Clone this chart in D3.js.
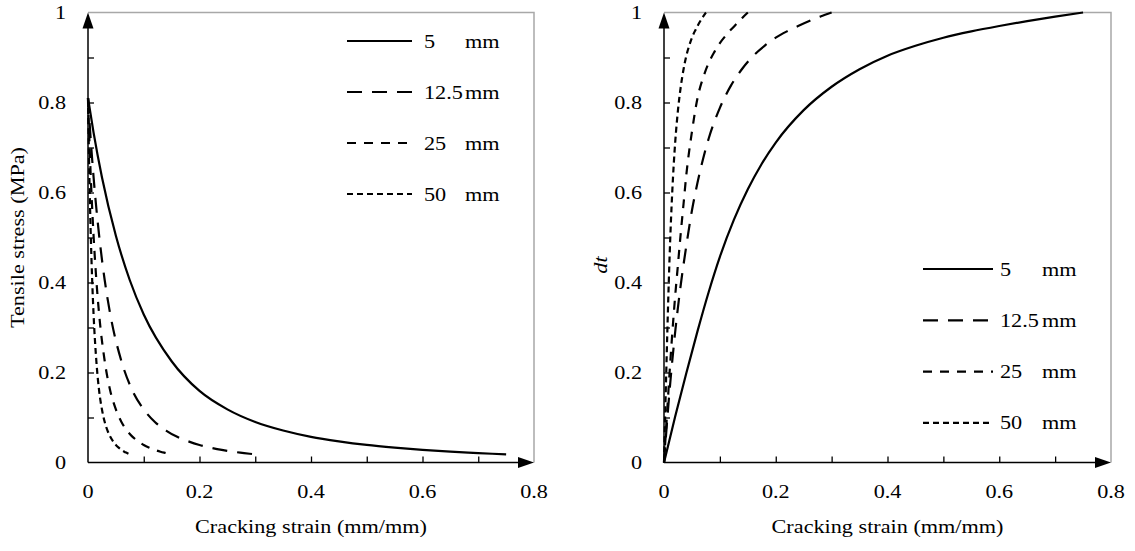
<!DOCTYPE html>
<html>
<head>
<meta charset="utf-8">
<script src="https://cdn.jsdelivr.net/npm/d3@7"></script>
<style>
  html, body { margin: 0; padding: 0; background: #fff; }
  svg { display: block; }
</style>
</head>
<body>
<svg id="chart" width="1135" height="551"></svg>
<script>
// Element sizes (mm) shown in both panels
const elementSizes = ["5", "12.5", "25", "50"];

// Tensile stress (MPa) against cracking strain (mm/mm)
const stress5mm = [[0,0.81],[0.01,0.733],[0.025,0.634],[0.05,0.504],[0.075,0.405],[0.1,0.329],[0.15,0.225],[0.2,0.159],[0.25,0.118],[0.3,0.09],[0.35,0.071],[0.4,0.057],[0.45,0.047],[0.5,0.039],[0.55,0.033],[0.6,0.028],[0.65,0.024],[0.7,0.021],[0.75,0.018]];
const stress12mm = [[0,0.81],[0.004,0.733],[0.01,0.634],[0.02,0.504],[0.03,0.405],[0.04,0.329],[0.06,0.225],[0.08,0.159],[0.1,0.118],[0.12,0.09],[0.14,0.071],[0.16,0.057],[0.18,0.047],[0.2,0.039],[0.22,0.033],[0.24,0.028],[0.26,0.024],[0.28,0.021],[0.3,0.018]];
const stress25mm = [[0,0.81],[0.002,0.733],[0.005,0.634],[0.01,0.504],[0.015,0.405],[0.02,0.329],[0.03,0.225],[0.04,0.159],[0.05,0.118],[0.06,0.09],[0.07,0.071],[0.08,0.057],[0.09,0.047],[0.1,0.039],[0.11,0.033],[0.12,0.028],[0.13,0.024],[0.14,0.021],[0.15,0.018]];
const stress50mm = [[0,0.81],[0.001,0.733],[0.0025,0.634],[0.005,0.504],[0.0075,0.405],[0.01,0.329],[0.015,0.225],[0.02,0.159],[0.025,0.118],[0.03,0.09],[0.035,0.071],[0.04,0.057],[0.045,0.047],[0.05,0.039],[0.055,0.033],[0.06,0.028],[0.065,0.024],[0.07,0.021],[0.075,0.018]];

// Tensile damage dt against cracking strain (mm/mm)
const damage5mm = [[0,0],[0.02,0.102],[0.04,0.199],[0.06,0.292],[0.08,0.379],[0.1,0.457],[0.125,0.539],[0.15,0.607],[0.175,0.664],[0.2,0.711],[0.25,0.783],[0.3,0.835],[0.35,0.874],[0.4,0.904],[0.45,0.926],[0.5,0.944],[0.55,0.958],[0.6,0.97],[0.65,0.981],[0.7,0.991],[0.75,1.0]];
const damage12mm = [[0,0],[0.01,0.16],[0.02,0.29],[0.03,0.395],[0.04,0.482],[0.05,0.56],[0.06,0.622],[0.07,0.675],[0.08,0.72],[0.1,0.788],[0.12,0.838],[0.14,0.875],[0.16,0.904],[0.18,0.926],[0.2,0.944],[0.22,0.958],[0.24,0.97],[0.26,0.981],[0.28,0.991],[0.3,1.0]];
const damage25mm = [[0,0],[0.005,0.1],[0.01,0.2],[0.015,0.29],[0.02,0.37],[0.025,0.44],[0.03,0.51],[0.035,0.575],[0.04,0.64],[0.05,0.735],[0.06,0.81],[0.07,0.855],[0.08,0.888],[0.09,0.912],[0.1,0.932],[0.11,0.948],[0.12,0.962],[0.13,0.975],[0.14,0.988],[0.15,1.0]];
const damage50mm = [[0,0],[0.002,0.102],[0.004,0.199],[0.006,0.292],[0.008,0.379],[0.01,0.457],[0.0125,0.539],[0.015,0.607],[0.0175,0.664],[0.02,0.711],[0.025,0.783],[0.03,0.835],[0.035,0.874],[0.04,0.904],[0.045,0.926],[0.05,0.944],[0.055,0.958],[0.06,0.97],[0.065,0.981],[0.07,0.991],[0.075,1.0]];

// Axis ticks
const xTickLabels = [0, 0.2, 0.4, 0.6, 0.8];
const yTickLabels = [0, 0.2, 0.4, 0.6, 0.8, 1];
const xMinorTicks = [0.1, 0.2, 0.3, 0.4, 0.5, 0.6, 0.7];
const yMinorTicks = [0.1, 0.2, 0.3, 0.4, 0.5, 0.6, 0.7, 0.8, 0.9];

// Line styles per element size
const dashes = [null, "15,10", "9,8", "6,4"];

const FONT = "'Liberation Serif', 'Times New Roman', serif";
const FS = 19;      // font size
const SX = 1.17;    // horizontal glyph stretch

const svg = d3.select("#chart");

function txt(g, x, y, s, opts = {}) {
  const rot = opts.rotate ? ` rotate(${opts.rotate})` : "";
  return g.append("text")
    .attr("transform", `translate(${x},${y})${rot} scale(${SX},1)`)
    .attr("text-anchor", opts.anchor || "start")
    .attr("font-family", FONT)
    .attr("font-size", FS)
    .attr("font-style", opts.italic ? "italic" : "normal")
    .attr("fill", "#000")
    .text(s);
}

function panel(cfg) {
  const g = svg.append("g");
  const x = d3.scaleLinear().domain([0, 0.8]).range([cfg.left, cfg.right]);
  const y = d3.scaleLinear().domain([0, 1]).range([462.5, 12.5]);

  // light frame on top and right
  g.append("path")
    .attr("d", `M${x(0)},${y(1)}H${x(0.8)}V${y(0)}`)
    .attr("fill", "none").attr("stroke", "#a8a8a8").attr("stroke-width", 1.5);

  // inward ticks
  g.append("g").attr("transform", `translate(0,${y(0)})`)
    .call(d3.axisBottom(x).tickValues(xMinorTicks).tickSize(-6).tickFormat(""))
    .call(a => a.select(".domain").remove())
    .call(a => a.selectAll("text").remove())
    .call(a => a.selectAll("line").attr("stroke", "#000").attr("stroke-width", 1.3));
  g.append("g").attr("transform", `translate(${x(0)},0)`)
    .call(d3.axisLeft(y).tickValues(yMinorTicks).tickSize(-6).tickFormat(""))
    .call(a => a.select(".domain").remove())
    .call(a => a.selectAll("text").remove())
    .call(a => a.selectAll("line").attr("stroke", "#000").attr("stroke-width", 1.3));

  // curves
  const line = d3.line().x(d => x(d[0])).y(d => y(d[1])).curve(d3.curveMonotoneX);
  cfg.series.forEach((s, i) => {
    g.append("path").datum(s)
      .attr("d", line)
      .attr("fill", "none").attr("stroke", "#000").attr("stroke-width", 2.2)
      .attr("stroke-dasharray", dashes[i]);
  });

  // axis lines with arrow heads
  g.append("line").attr("x1", x(0)).attr("y1", y(0)).attr("x2", x(0.8) - 10).attr("y2", y(0))
    .attr("stroke", "#000").attr("stroke-width", 1.5);
  g.append("line").attr("x1", x(0)).attr("y1", y(0)).attr("x2", x(0)).attr("y2", y(1) + 10)
    .attr("stroke", "#000").attr("stroke-width", 1.5);
  g.append("path")
    .attr("d", `M${x(0.8)},${y(0)}l-16,-5.5v11z`).attr("fill", "#000");
  g.append("path")
    .attr("d", `M${x(0)},${y(1)}l-5.5,16h11z`).attr("fill", "#000");

  // tick labels
  xTickLabels.forEach(v => txt(g, x(v), y(0) + 35.5, String(v), { anchor: "middle" }));
  yTickLabels.forEach(v => txt(g, x(0) - 22, y(v) + 6.5, String(v), { anchor: "end" }));

  // axis titles
  txt(g, (x(0) + x(0.8)) / 2, 533, "Cracking strain (mm/mm)", { anchor: "middle" });
  txt(g, cfg.yTitleX, cfg.yTitleY, cfg.yTitle, { anchor: "middle", rotate: -90, italic: cfg.italic });

  // legend
  elementSizes.forEach((s, i) => {
    const ly = cfg.legY + i * cfg.legStep;
    g.append("line")
      .attr("x1", cfg.legX1).attr("x2", cfg.legX2).attr("y1", ly).attr("y2", ly)
      .attr("stroke", "#000").attr("stroke-width", 2.2)
      .attr("stroke-dasharray", dashes[i]);
    txt(g, cfg.legNum, ly + 6.5, s);
    txt(g, cfg.legMm, ly + 6.5, "mm");
  });
}

panel({
  left: 88, right: 534,
  series: [stress5mm, stress12mm, stress25mm, stress50mm],
  yTitle: "Tensile stress (MPa)", yTitleX: 24, yTitleY: 237.5, italic: false,
  legX1: 347, legX2: 412, legNum: 424, legMm: 465, legY: 41, legStep: 51
});

panel({
  left: 664, right: 1111,
  series: [damage5mm, damage12mm, damage25mm, damage50mm],
  yTitle: "dt", yTitleX: 607, yTitleY: 265, italic: true,
  legX1: 923, legX2: 993, legNum: 1000, legMm: 1042, legY: 269, legStep: 51.3
});
</script>
</body>
</html>
